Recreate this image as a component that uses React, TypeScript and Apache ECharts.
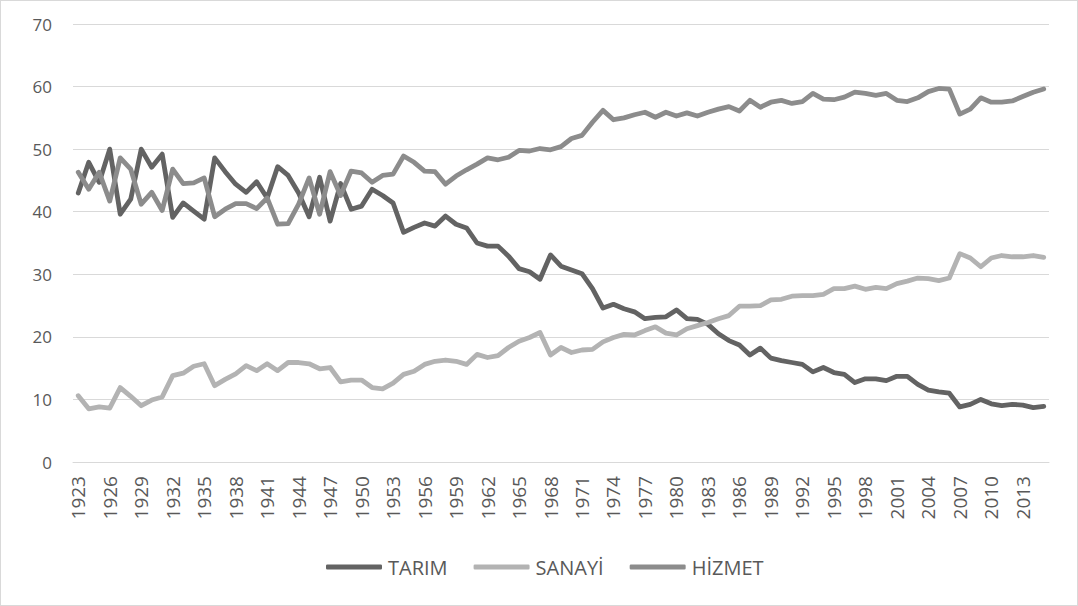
import React, { useEffect, useRef } from "react";
import * as echarts from "echarts";

const years: string[] = [];
for (let y = 1923; y <= 2015; y++) years.push(String(y));

const tarim = [
  43.0, 47.9, 44.7, 50.0, 39.6, 42.0, 50.0, 47.1, 49.2, 39.1,
  41.4, 40.1, 38.8, 48.6, 46.4, 44.4, 43.1, 44.8, 42.2, 47.2,
  45.8, 43.0, 39.2, 45.5, 38.5, 44.5, 40.4, 40.9, 43.6, 42.6,
  41.4, 36.7, 37.5, 38.2, 37.7, 39.3, 38.0, 37.4, 35.0, 34.5,
  34.5, 32.9, 30.9, 30.4, 29.2, 33.1, 31.3, 30.7, 30.1, 27.7,
  24.6, 25.2, 24.5, 24.0, 22.9, 23.1, 23.2, 24.3, 22.9, 22.8,
  22.0, 20.5, 19.4, 18.7, 17.1, 18.2, 16.6, 16.2, 15.9, 15.6,
  14.4, 15.1, 14.3, 14.0, 12.7, 13.3, 13.3, 13.0, 13.7, 13.7,
  12.4, 11.5, 11.2, 11.0, 8.8, 9.2, 10.0, 9.3, 9.0, 9.2,
  9.1, 8.7, 8.9,
];

const sanayi = [
  10.6, 8.5, 8.8, 8.6, 11.9, 10.5, 9.0, 9.9, 10.4, 13.8,
  14.2, 15.3, 15.7, 12.2, 13.2, 14.1, 15.4, 14.6, 15.7, 14.6,
  15.9, 15.9, 15.7, 14.9, 15.1, 12.8, 13.1, 13.1, 11.9, 11.7,
  12.6, 14.0, 14.5, 15.6, 16.1, 16.3, 16.1, 15.6, 17.2, 16.7,
  17.0, 18.3, 19.3, 19.9, 20.7, 17.1, 18.3, 17.5, 17.9, 18.0,
  19.2, 19.9, 20.4, 20.3, 21.0, 21.6, 20.6, 20.3, 21.3, 21.8,
  22.3, 22.9, 23.4, 24.9, 24.9, 25.0, 25.9, 26.0, 26.5, 26.6,
  26.6, 26.8, 27.7, 27.7, 28.1, 27.6, 27.9, 27.7, 28.5, 28.9,
  29.4, 29.3, 29.0, 29.4, 33.3, 32.6, 31.2, 32.6, 33.0, 32.8,
  32.8, 33.0, 32.7,
];

const hizmet = [
  46.3, 43.6, 46.3, 41.7, 48.6, 46.8, 41.2, 43.1, 40.2, 46.8,
  44.5, 44.6, 45.4, 39.2, 40.4, 41.3, 41.3, 40.5, 42.2, 38.0,
  38.1, 41.2, 45.4, 39.6, 46.4, 42.6, 46.5, 46.2, 44.7, 45.8,
  46.0, 48.9, 47.9, 46.5, 46.4, 44.4, 45.7, 46.7, 47.6, 48.6,
  48.3, 48.7, 49.8, 49.7, 50.1, 49.9, 50.4, 51.7, 52.2, 54.3,
  56.2, 54.7, 55.0, 55.5, 55.9, 55.1, 55.9, 55.3, 55.8, 55.3,
  55.9, 56.4, 56.8, 56.1, 57.8, 56.7, 57.5, 57.8, 57.3, 57.6,
  58.9, 58.0, 57.9, 58.3, 59.1, 58.9, 58.6, 58.9, 57.8, 57.6,
  58.2, 59.2, 59.7, 59.6, 55.6, 56.4, 58.2, 57.5, 57.5, 57.7,
  58.4, 59.1, 59.6,
];

const seriesNames = ["TARIM", "SANAYİ", "HİZMET"];
const seriesColors = ["#636363", "#b3b3b3", "#8c8c8c"];

export default function App() {
  const ref = useRef<HTMLDivElement>(null);

  useEffect(() => {
    if (!ref.current) return;
    const chart = echarts.init(ref.current, null, { renderer: "svg" });
    const font = "'Open Sans', 'Noto Sans', sans-serif";
    const datasets = [tarim, sanayi, hizmet];
    chart.setOption({
      animation: false,
      textStyle: { fontFamily: font },
      grid: { left: 72, right: 28, top: 23, bottom: 143, containLabel: false },
      legend: {
        bottom: 23,
        left: 320,
        itemWidth: 56,
        itemHeight: 5,
        itemGap: 26,
        icon: "roundRect",
        textStyle: { color: "#595959", fontSize: 20, fontFamily: font, padding: [0, 0, 0, 1] },
        data: seriesNames,
      },
      xAxis: {
        type: "category",
        data: years,
        boundaryGap: true,
        axisLine: { show: true, lineStyle: { color: "#d9d9d9", width: 1 } },
        axisTick: { show: false },
        axisLabel: {
          interval: 2,
          rotate: 90,
          color: "#595959",
          fontSize: 19,
          fontFamily: font,
          margin: 14,
        },
      },
      yAxis: {
        type: "value",
        min: 0,
        max: 70,
        interval: 10,
        axisLine: { show: false },
        axisTick: { show: false },
        splitLine: { lineStyle: { color: "#d9d9d9", width: 1 } },
        axisLabel: { color: "#595959", fontSize: 17, fontFamily: font, margin: 21 },
      },
      series: seriesNames.map((name, i) => ({
        name,
        type: "line",
        data: datasets[i],
        showSymbol: false,
        symbol: "none",
        lineStyle: { width: 4.8, color: seriesColors[i], cap: "round", join: "round" },
        itemStyle: { color: seriesColors[i] },
      })),
    });
    return () => chart.dispose();
  }, []);

  return (
    <div
      style={{
        position: "fixed",
        left: 0,
        top: 0,
        width: 1078,
        height: 606,
        boxSizing: "border-box",
        border: "1px solid #d9d9d9",
        background: "#fff",
      }}
    >
      <div ref={ref} style={{ width: 1076, height: 604 }} />
    </div>
  );
}
